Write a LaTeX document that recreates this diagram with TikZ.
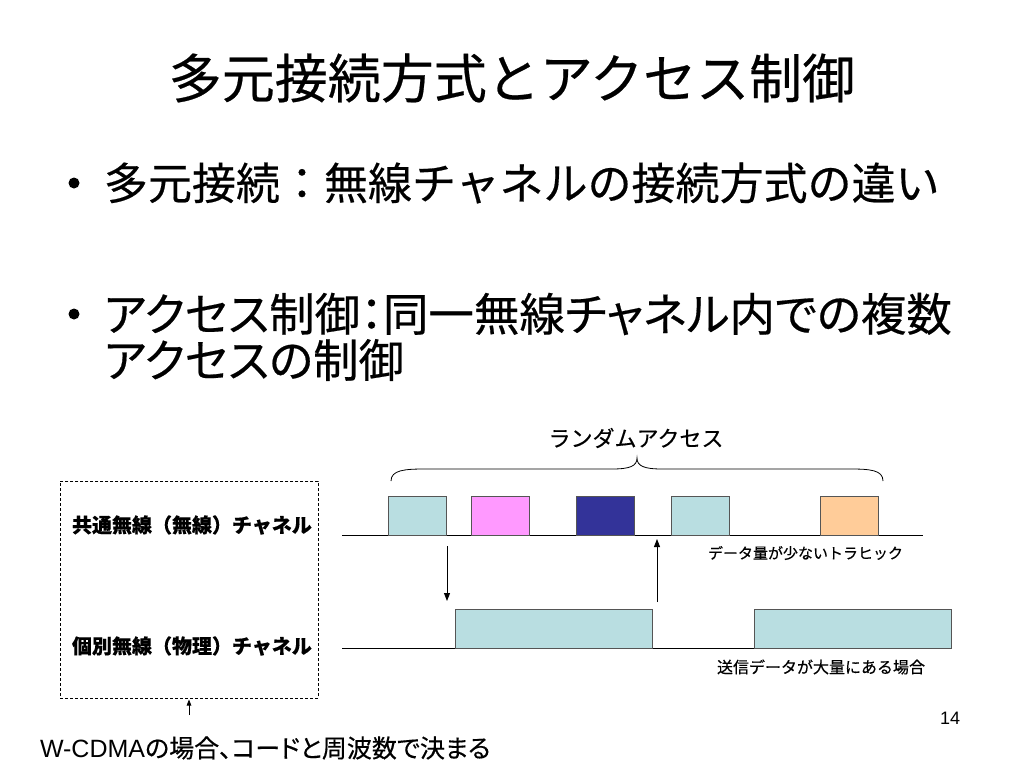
\documentclass[tikz,border=0pt]{standalone}
\usepackage{fontspec}
\setmainfont{Liberation Sans}
\newfontfamily\jp{Noto Sans CJK JP}[FakeBold=0.4]
\newfontfamily\jpp{Noto Sans CJK JP}[RawFeature=+palt,FakeBold=0.4]
\usetikzlibrary{arrows.meta}
\definecolor{lblue}{RGB}{185,222,225}
\definecolor{pinkc}{RGB}{255,153,255}
\definecolor{navyc}{RGB}{51,51,153}
\definecolor{peachc}{RGB}{255,204,153}
\definecolor{edgec}{RGB}{85,85,85}
\begin{document}
\begin{tikzpicture}[x=1pt,y=-1pt,
  pkt/.style={draw=edgec,line width=0.9pt,inner sep=0,outer sep=0,anchor=south west,minimum height=39pt},
  small/.style={pkt,minimum width=58pt},
  big/.style={pkt,minimum width=197pt},
  txt/.style={inner sep=0,outer sep=0},
  arr/.style={line width=0.9pt,-{Triangle[length=8pt,width=6pt]}},
  sarr/.style={line width=0.8pt,-{Triangle[length=6pt,width=4.5pt]}},
  chan/.style={line width=0.9pt},
  dot/.style={circle,fill=black,inner sep=0,minimum size=11pt}]
\useasboundingbox (0,0) rectangle (1024,768);
\fill[white] (0,0) rectangle (1024,768);

% title
\node[txt,font={\jp\fontsize{53}{60}\selectfont}] (title) at (512,78) {多元接続方式とアクセス制御};

% bullets
\node[dot] (b1) at (74,183) {};
\node[txt,anchor=west,font={\jp\fontsize{44}{50}\selectfont}] (t1) at (104,183) {多元接続：無線チャネルの接続方式の違い};
\node[dot] (b2) at (74,314) {};
\node[txt,anchor=west,font={\jpp\fontsize{45.5}{50}\selectfont}] (t2) at (104,314) {アクセス制御：同一無線チャネル内での複数};
\node[txt,anchor=west,font={\jpp\fontsize{45.5}{50}\selectfont}] (t3) at (104,360) {アクセスの制御};

% brace
\draw[line width=0.8pt] (391,481) .. controls (391,470) and (405,469) .. (425,469) -- (612,469)
  .. controls (630,469) and (637,466) .. (637,458)
  .. controls (637,466) and (644,469) .. (662,469) -- (850,469)
  .. controls (870,469) and (883,470) .. (883,481);
\node[txt,font={\jp\fontsize{22}{26}\selectfont}] (ra) at (636,438) {ランダムアクセス};

% channel lines
\coordinate (tl1) at (342,535.5);
\coordinate (tl2) at (922.5,535.5);
\coordinate (bl1) at (342,648.5);
\coordinate (bl2) at (951,648.5);
\draw[chan] (tl1) -- (tl2);
\draw[chan] (bl1) -- (bl2);

% packets
\node[small,fill=lblue] (p1) at (388,535.5) {};
\node[small,fill=pinkc] (p2) at (471.5,535.5) {};
\node[small,fill=navyc] (p3) at (576.5,535.5) {};
\node[small,fill=lblue] (p4) at (671.5,535.5) {};
\node[small,fill=peachc] (p5) at (820,535.5) {};
\node[big,fill=lblue] (bA) at (455.5,648.5) {};
\node[big,fill=lblue] (bB) at (754,648.5) {};

% arrows
\coordinate (a1s) at (447,546);
\coordinate (a1e) at (447,601);
\coordinate (a2s) at (657,602);
\coordinate (a2e) at (657,539);
\draw[arr] (a1s) -- (a1e);
\draw[arr] (a2s) -- (a2e);

\node[txt,anchor=west,font={\jp\fontsize{15}{18}\selectfont}] (d1) at (708,553) {データ量が少ないトラヒック};
\node[txt,anchor=west,font={\jp\fontsize{16}{19}\selectfont}] (d2) at (717,667) {送信データが大量にある場合};

% dashed box
\node[draw,dash pattern=on 3pt off 2pt,line width=0.8pt,inner sep=0,minimum width=258pt,minimum height=217pt,anchor=north west] (dbox) at (60,481) {};
\node[txt,anchor=west,font={\jp\bfseries\fontsize{20}{24}\selectfont}] (l1) at (72,525) {共通無線（無線）チャネル};
\node[txt,anchor=west,font={\jp\bfseries\fontsize{20}{24}\selectfont}] (l2) at (72,646) {個別無線（物理）チャネル};

\coordinate (ws) at (189,715);
\coordinate (we) at (189,699.5);
\draw[sarr] (ws) -- (we);
\node[txt,anchor=west,font={\fontsize{25}{30}\selectfont}] (wc) at (40,748) {W-CDMA{\jpp の場合、コードと周波数で決まる}};

\node[txt,font={\fontsize{18}{20}\selectfont}] (pg) at (950,718) {14};
\end{tikzpicture}
\end{document}
